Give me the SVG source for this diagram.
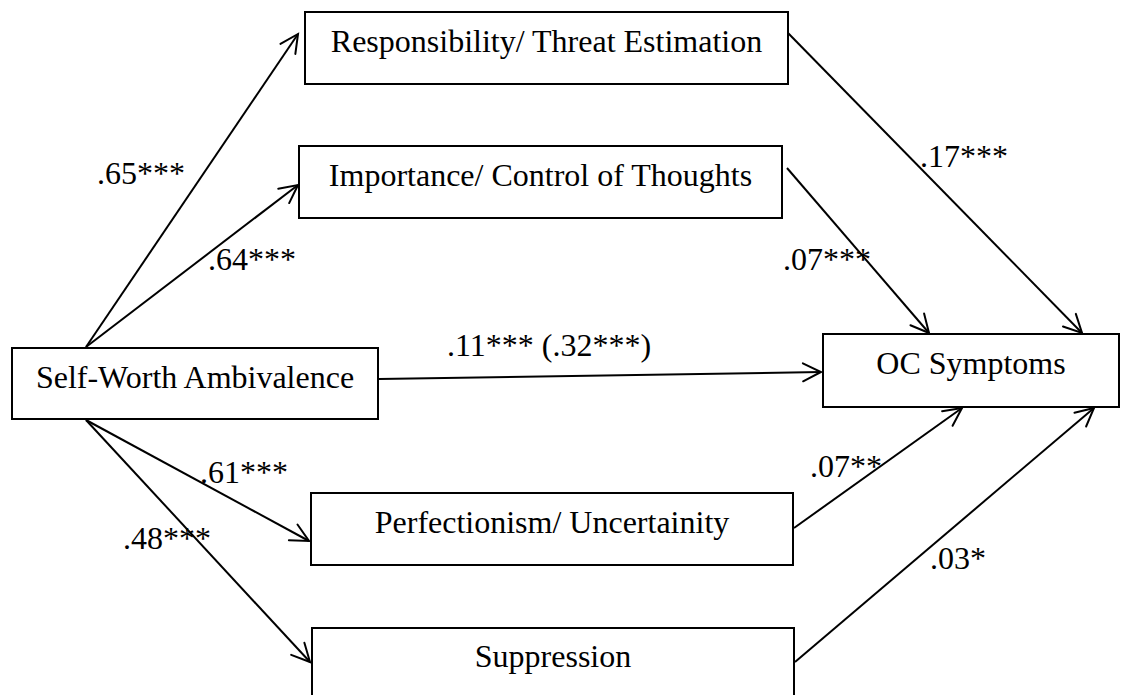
<svg xmlns="http://www.w3.org/2000/svg" width="1121" height="695" viewBox="0 0 1121 695">
<style>
.box{fill:#fff;stroke:#000;stroke-width:2}
.t{font-family:"Liberation Serif","Times New Roman",serif;font-size:32px;fill:#000}
.c{text-anchor:middle}
.e{fill:none;stroke:#000;stroke-width:2;marker-end:url(#arr)}
</style>
<defs>
<marker id="arr" markerUnits="userSpaceOnUse" markerWidth="40" markerHeight="40" refX="0" refY="0" orient="auto" overflow="visible">
<path d="M -18 -9 L 0 0 L -18 9" fill="none" stroke="#000" stroke-width="2" stroke-linecap="round" stroke-linejoin="miter"/>
</marker>
</defs>
<rect width="1121" height="695" fill="#fff"/>
<g id="connectors">
<line class="e" x1="86" y1="347" x2="298" y2="34"/>
<line class="e" x1="86" y1="347" x2="298" y2="185"/>
<line class="e" x1="379" y1="379" x2="821" y2="372"/>
<line class="e" x1="86" y1="420" x2="309" y2="541"/>
<line class="e" x1="86" y1="420" x2="310" y2="662"/>
<line class="e" x1="788" y1="33" x2="1082" y2="333"/>
<line class="e" x1="787" y1="168" x2="929" y2="333"/>
<line class="e" x1="794" y1="528" x2="962" y2="408"/>
<line class="e" x1="795" y1="662" x2="1094" y2="408"/>
</g>
<g id="n-responsibility"><rect class="box" x="305" y="12" width="483" height="72"/><text class="t c" x="546.5" y="52">Responsibility/ Threat Estimation</text></g>
<g id="n-importance"><rect class="box" x="299" y="146" width="483" height="72"/><text class="t c" x="540.5" y="186">Importance/ Control of Thoughts</text></g>
<g id="n-selfworth"><rect class="box" x="12" y="348" width="366" height="71"/><text class="t c" x="195" y="388">Self-Worth Ambivalence</text></g>
<g id="n-oc"><rect class="box" x="823" y="334" width="296" height="73"/><text class="t c" x="971" y="374">OC Symptoms</text></g>
<g id="n-perfectionism"><rect class="box" x="311" y="493" width="482" height="72"/><text class="t c" x="552" y="533">Perfectionism/ Uncertainity</text></g>
<g id="n-suppression"><rect class="box" x="312" y="628" width="482" height="72"/><text class="t c" x="553" y="667">Suppression</text></g>
<g id="labels">
<text class="t" x="97" y="184">.65***</text>
<text class="t" x="208" y="270">.64***</text>
<text class="t" x="920" y="167">.17***</text>
<text class="t" x="783" y="270">.07***</text>
<text class="t" x="447" y="356">.11*** (.32***)</text>
<text class="t" x="200" y="483">.61***</text>
<text class="t" x="123" y="549">.48***</text>
<text class="t" x="810" y="477">.07**</text>
<text class="t" x="930" y="569">.03*</text>
</g>
</svg>
